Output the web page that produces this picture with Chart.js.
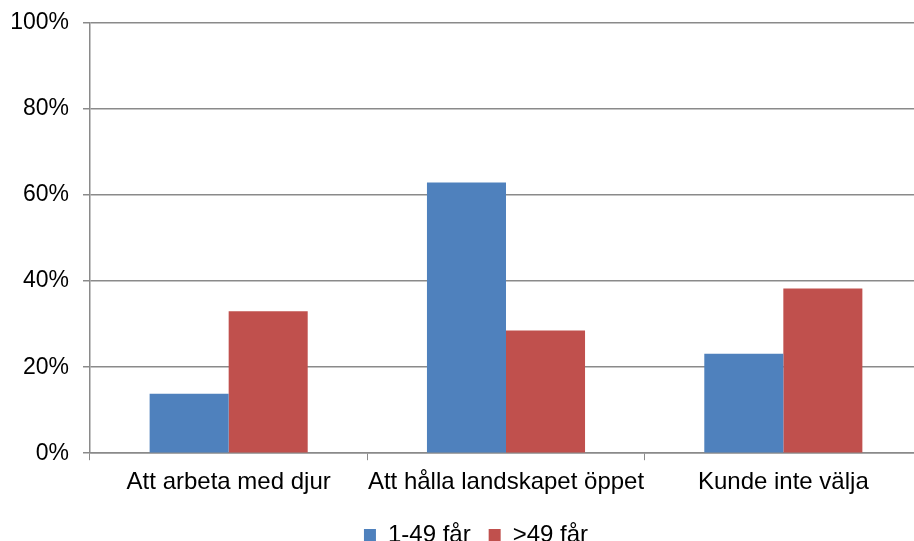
<!DOCTYPE html>
<html>
<head>
<meta charset="utf-8">
<script src="https://cdn.jsdelivr.net/npm/chart.js@4"></script>
<style>
  html, body { margin: 0; padding: 0; background: #fff; overflow: hidden; }
  #wrap { width: 930px; height: 557px; }
</style>
</head>
<body>
<div id="wrap"><canvas id="chart"></canvas></div>
<script>
const categories = ["Att arbeta med djur", "Att hålla landskapet öppet", "Kunde inte välja"];
const small = [13.8, 62.9, 23.1];   // 1-49 får
const large = [33.0, 28.5, 38.3];   // >49 får
const seriesNames = ["1-49 får", ">49 får"];

const GRID = "#8a8a8a";
const FAMILY = "'Liberation Sans', Arial, sans-serif";
const FONT = { family: FAMILY, size: 24 };

// nudge the bottom legend a bit right, like the original
const legendShift = {
  id: "legendShift",
  afterLayout(chart) {
    chart.legend.left += 10;
    chart.legend.right += 10;
  },
};

new Chart(document.getElementById("chart"), {
  type: "bar",
  data: {
    labels: categories,
    datasets: [
      { label: seriesNames[0], data: small, backgroundColor: "#4F81BD" },
      { label: seriesNames[1], data: large, backgroundColor: "#C0504D" },
    ],
  },
  options: {
    responsive: true,
    maintainAspectRatio: false,
    animation: false,
    devicePixelRatio: 1,
    categoryPercentage: 0.57,
    barPercentage: 1.0,
    layout: { padding: { left: 10, right: 8, top: 23, bottom: 0 } },
    plugins: {
      legend: {
        position: "bottom",
        labels: { font: FONT, color: "#000", boxWidth: 12, boxHeight: 12, padding: 18 },
      },
      tooltip: { enabled: false },
    },
    scales: {
      x: {
        grid: { offset: true, drawOnChartArea: false, color: GRID, tickLength: 7, lineWidth: 1 },
        border: { color: GRID, width: 1.5 },
        ticks: { font: FONT, color: "#000", padding: 8, maxRotation: 0, autoSkip: false },
      },
      y: {
        min: 0,
        max: 100,
        afterFit: (s) => { s.width = 80; s.paddingTop = 0; s.paddingBottom = 0; },
        grid: { color: GRID, tickLength: 7, lineWidth: 1.5 },
        border: { color: GRID, width: 1.5 },
        ticks: { stepSize: 20, font: { family: FAMILY, size: 23 }, color: "#000", padding: 14, callback: (v) => v + "%" },
      },
    },
  },
  plugins: [legendShift],
});
</script>
</body>
</html>
